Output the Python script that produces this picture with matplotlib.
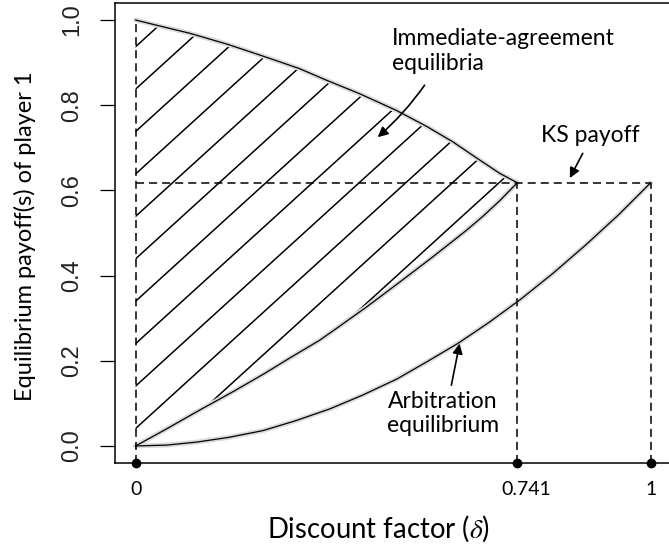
import numpy as np
import matplotlib
matplotlib.use("Agg")
import matplotlib.pyplot as plt
from matplotlib.patches import Polygon
from matplotlib.transforms import ScaledTranslation

plt.rcParams['mathtext.fontset'] = 'stix'
plt.rcParams['lines.scale_dashes'] = False

# ---------------- data ----------------
delta_upper = [0.0, 0.047, 0.105, 0.176, 0.221, 0.27, 0.318, 0.370, 0.435,
               0.506, 0.564, 0.616, 0.661, 0.707, 0.741]
payoff_upper = [1.0, 0.986, 0.969, 0.944, 0.926, 0.906, 0.886, 0.859, 0.827,
                0.788, 0.751, 0.714, 0.677, 0.640, 0.618]

delta_lower = [0.0, 0.06, 0.124, 0.19, 0.25, 0.30, 0.357, 0.39, 0.448,
               0.513, 0.577, 0.642, 0.675, 0.707, 0.741]
payoff_lower = [0.0, 0.040, 0.084, 0.128, 0.170, 0.207, 0.248, 0.276, 0.326,
                0.385, 0.444, 0.506, 0.540, 0.576, 0.618]

delta_arb = [0.0, 0.06, 0.118, 0.18, 0.247, 0.31, 0.377, 0.44, 0.507, 0.566,
             0.626, 0.686, 0.746, 0.81, 0.873, 0.937, 1.0]
payoff_arb = [0.0, 0.002, 0.009, 0.020, 0.036, 0.059, 0.087, 0.119, 0.157,
              0.198, 0.241, 0.290, 0.343, 0.405, 0.471, 0.542, 0.618]

ks_payoff = 0.618
delta_star = 0.741
xtick_vals = [0, 0.741, 1]
xtick_labels = ['0', '0.741', '1']
ytick_vals = [0.0, 0.2, 0.4, 0.6, 0.8, 1.0]
ytick_labels = ['0.0', '0.2', '0.4', '0.6', '0.8', '1.0']

TXT = ['Lato', 'DejaVu Sans']
TICKF = ['Liberation Sans', 'DejaVu Sans']

# ---------------- figure ----------------
fig = plt.figure(figsize=(6.69, 5.48), dpi=100)
ax = fig.add_axes([115 / 669, 85 / 548, 556.3 / 669, 460 / 548])
ax.set_xlim(-0.04, 1.04)
ax.set_ylim(-0.04, 1.04)
ybot = -0.04

# hatched region (immediate-agreement equilibria)
verts = list(zip(delta_upper, payoff_upper)) + list(zip(delta_lower[::-1], payoff_lower[::-1]))
region = Polygon(verts, closed=True, facecolor='none', edgecolor='none')
ax.add_patch(region)
h_slope, h_gap, h_base = 1.10, 0.0996, 0.041
hx = np.array([-0.05, 0.8])
for k in range(-10, 11):
    ln, = ax.plot(hx, h_base + k * h_gap + h_slope * hx, color='black', lw=1.1)
    ln.set_clip_path(region)

# curves (grey halo + black core)
for xs, ys in [(delta_upper, payoff_upper), (delta_lower, payoff_lower), (delta_arb, payoff_arb)]:
    ax.plot(xs, ys, color='#dadada', lw=3.5, solid_capstyle='round', zorder=3)
    ax.plot(xs, ys, color='black', lw=0.9, zorder=4)

# dashed guides
dash = dict(color='black', lw=1.1, ls=(0, (5.8, 3.6)), zorder=4)
ax.plot([0, 0], [ybot, 1.0], **dash)
ax.plot([0, 1], [ks_payoff, ks_payoff], **dash)
ax.plot([delta_star, delta_star], [ybot, ks_payoff], **dash)
ax.plot([1, 1], [ybot, ks_payoff], **dash)

# dots on the delta axis
ax.plot(xtick_vals, [ybot] * len(xtick_vals), 'o', color='black', ms=6,
        clip_on=False, zorder=6)

# annotations
arr = dict(arrowstyle='-|>', color='black', lw=1.2, mutation_scale=15, shrinkA=0, shrinkB=0)
ax.annotate('', xy=(0.470, 0.725), xytext=(0.561, 0.847),
            arrowprops=dict(arr, connectionstyle='arc3,rad=-0.06'))
ax.text(0.497, 0.927, 'Immediate-agreement\nequilibria', ha='left', va='center',
        fontsize=16.5, family=TXT, linespacing=1.2)
ax.annotate('', xy=(0.843, 0.629), xytext=(0.868, 0.687), arrowprops=arr)
ax.text(0.882, 0.730, 'KS payoff', ha='center', va='center', fontsize=16.5, family=TXT)
ax.annotate('', xy=(0.629, 0.2405), xytext=(0.613, 0.1426), arrowprops=arr)
ax.text(0.596, 0.0756, 'Arbitration\nequilibrium', ha='center', va='center',
        multialignment='center', fontsize=16.5, family=TXT, linespacing=1.2)

# axes styling
for side in ['left', 'top', 'bottom', 'right']:
    ax.spines[side].set_linewidth(1.1)
ax.set_yticks(ytick_vals)
ax.set_yticklabels(ytick_labels, rotation=90, va='center', family=TICKF,
                   fontsize=17, color='#222222')
ax.tick_params(axis='y', length=11, width=0.9, pad=12)
ax.set_xticks(xtick_vals)
ax.set_xticklabels(xtick_labels, family=TXT, fontsize=14)
ax.tick_params(axis='x', length=0, pad=13)
lab = ax.get_xticklabels()[1]
lab.set_transform(lab.get_transform() + ScaledTranslation(9 / 100, 0, fig.dpi_scale_trans))

fig.text(25 / 669, 1 - 236 / 548, 'Equilibrium payoff(s) of player 1', rotation=90,
         ha='center', va='center', fontsize=17, family=TXT)
fig.text(378 / 669, 1 - 529 / 548, r'Discount factor ($\delta$)', ha='center',
         va='center', fontsize=19.8, family=TXT)

fig.savefig('out.png', dpi=100)
